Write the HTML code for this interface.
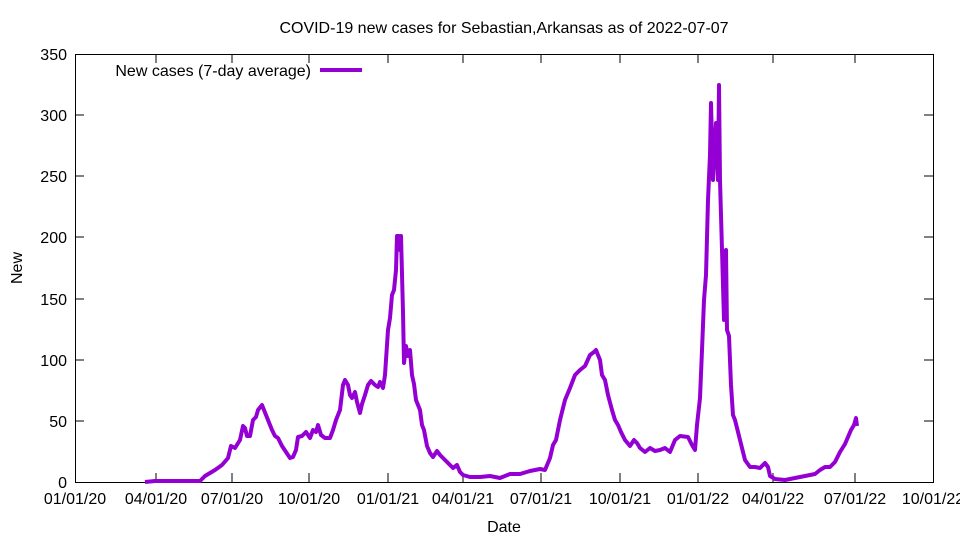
<!DOCTYPE html><html><head><style>body{margin:0;background:#fff}</style></head><body>
<svg width="960" height="540" xmlns="http://www.w3.org/2000/svg" font-family="Liberation Sans, sans-serif" font-size="16">
<rect width="960" height="540" fill="#fff"/>
<text x="504" y="33" text-anchor="middle">COVID-19 new cases for Sebastian,Arkansas as of 2022-07-07</text>
<g stroke="#000" stroke-width="1" fill="none">
<rect x="75.5" y="54.5" width="858" height="428"/>
<path d="M75 421h9M75 360h9M75 299h9M75 237h9M75 176h9M75 115h9M933 421h-9M933 360h-9M933 299h-9M933 237h-9M933 176h-9M933 115h-9
M156 482v-9M232 482v-9M309 482v-9M388 482v-9M463 482v-9M541 482v-9M620 482v-9M698 482v-9M773 482v-9M855 482v-9
M156 54v9M232 54v9M309 54v9M388 54v9M463 54v9M541 54v9M620 54v9M698 54v9M773 54v9M855 54v9"/>
</g>
<g text-anchor="end">
<text x="67" y="488">0</text><text x="67" y="427">50</text><text x="67" y="366">100</text><text x="67" y="305">150</text><text x="67" y="243">200</text><text x="67" y="182">250</text><text x="67" y="121">300</text><text x="67" y="60">350</text>
</g>
<g text-anchor="middle">
<text x="75" y="504">01/01/20</text><text x="156" y="504">04/01/20</text><text x="232" y="504">07/01/20</text><text x="309" y="504">10/01/20</text><text x="388" y="504">01/01/21</text><text x="463" y="504">04/01/21</text><text x="541" y="504">07/01/21</text><text x="620" y="504">10/01/21</text><text x="698" y="504">01/01/22</text><text x="773" y="504">04/01/22</text><text x="855" y="504">07/01/22</text><text x="933" y="504">10/01/22</text>
<text x="504" y="532">Date</text>
<text transform="translate(22,268) rotate(-90)">New</text>
</g>
<text x="311" y="76" text-anchor="end">New cases (7-day average)</text>
<path d="M320 70H362" stroke="#9400d3" stroke-width="4"/>
<polyline fill="none" stroke="#9400d3" stroke-width="4" stroke-linejoin="round" points="145,482 155,481 200,481 205,476 215,470 222,465 228,458 231,446 235,448 240,440 243,426 245,428 247,436 250,436 253,420 256,417 258,410 262,405 264,410 268,420 272,430 275,436 278,438 282,446 286,452 290,458 293,457 296,450 298,437 302,436 306,432 310,438 313,430 316,432 318,425 321,435 325,438 330,438 333,430 336,420 340,410 343,385 345,380 348,385 350,395 352,398 355,392 357,402 360,413 362,404 365,395 368,385 371,381 375,385 378,387 380,382 383,388 385,375 388,330 390,318 392,295 394,290 396,270 397,236 399,236 400,250 401,236 403,312 404,363 406,346 408,356 410,350 412,375 414,384 416,400 418,405 420,410 422,425 424,430 427,446 430,453 433,457 437,451 440,455 443,458 447,462 450,465 453,468 457,465 460,472 463,475 470,477 480,477 490,476 500,478 510,474 520,474 530,471 540,469 545,470 550,458 553,445 556,440 560,420 565,400 570,388 575,375 580,370 585,366 590,355 594,352 596,350 598,355 600,360 602,375 605,380 608,395 612,410 615,420 618,425 621,432 625,440 630,446 634,440 637,443 640,448 645,452 650,448 655,451 660,450 665,448 670,452 675,440 680,436 688,437 692,445 695,450 697,425 700,398 702,350 704,300 706,275 708,200 710,155 711,103 713,180 715,140 716,123 718,180 719,85 720,180 722,250 724,320 726,250 727,330 729,336 731,385 733,415 735,420 738,432 742,448 745,460 750,467 755,467 760,468 765,463 768,467 770,476 775,479 785,480 795,478 805,476 815,474 820,470 825,467 830,467 835,462 840,452 845,444 848,437 851,430 854,425 856,418 857,426"/>
</svg>
</body></html>
